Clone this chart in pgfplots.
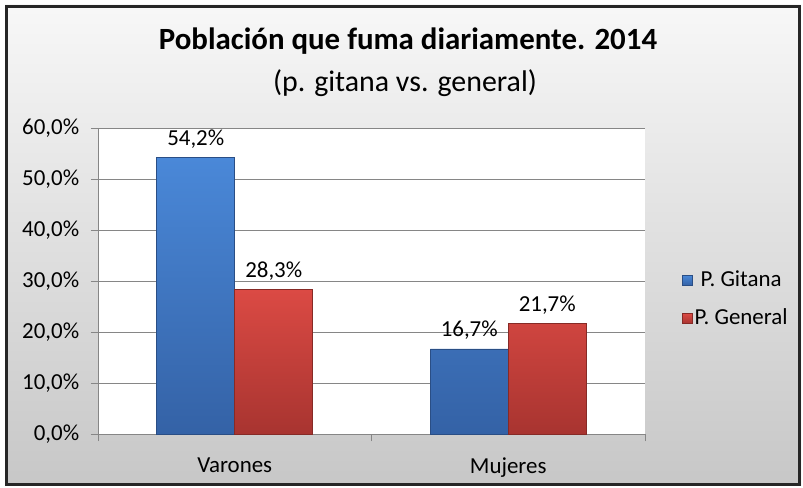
\documentclass[border=0pt]{standalone}
\usepackage{pgfplots}
\pgfplotsset{compat=1.18}
\usepackage{fontspec}
\setmainfont{Carlito}
\pgfplotsset{/pgf/number format/assume math mode=true}
\definecolor{bluetop}{HTML}{4A88D8}
\definecolor{bluebot}{HTML}{3462A6}
\definecolor{redtop}{HTML}{DB4A44}
\definecolor{redbot}{HTML}{A83430}
\definecolor{gridgray}{HTML}{868686}
\begin{document}
\fontsize{23}{27}\selectfont
\begin{tikzpicture}
\fill[white] (0bp,0bp) rectangle (803bp,488bp);
\shade[top color=black!3, bottom color=black!22] (5bp,2bp) rectangle (801bp,483bp);
\draw[black!85, line width=2.5bp] (6.5bp,3.5bp) rectangle (799.5bp,481.5bp);
\node[anchor=base, font=\fontsize{31}{35}\selectfont\bfseries] at (408bp,438bp) {Población que fuma diariamente. 2014};
\node[anchor=base, font=\fontsize{30}{34}\selectfont] at (405bp,396bp) {(p. gitana vs. general)};
\begin{axis}[
  at={(98bp,54bp)}, anchor=south west,
  width=547bp, height=306bp, scale only axis,
  ymin=0, ymax=60, xmin=-0.5, xmax=1.5,
  ytick={0,10,...,60},
  yticklabel={\pgfmathprintnumber[fixed,fixed zerofill,precision=1,use comma]{\tick}\%},
  yticklabel style={xshift=-4bp},
  xtick={-0.5,0.5,1.5},
  xticklabels={Varones,Mujeres},
  x tick label as interval=true,
  xticklabel style={yshift=-9bp},
  tick align=outside,
  major tick length=7bp,
  tick style={gridgray, line width=0.8bp},
  axis x line*=bottom, axis y line*=left,
  axis line style={gridgray, line width=0.8bp, -},
  ymajorgrids, major grid style={gridgray, line width=0.8bp},
  axis background/.style={fill=white},
  ybar=0pt, bar width=78bp,
  nodes near coords={\pgfmathprintnumber[fixed,fixed zerofill,precision=1,use comma]{\pgfplotspointmeta}\%},
  every node near coord/.append style={black, yshift=1bp},
  legend style={at={(1.062,0.44)}, anchor=west, draw=none, fill=none,
    row sep=15bp, /tikz/every even column/.style={column sep=5bp}},
  legend image code/.code={\draw[#1] (0bp,-5bp) rectangle (10bp,5bp);},
  clip=false,
]
\addplot[draw=bluebot!80!black, line width=0.6bp, top color=bluetop, bottom color=bluebot] coordinates {(0,54.2) (1,16.7)};
\addplot[draw=redbot!80!black, line width=0.6bp, top color=redtop, bottom color=redbot] coordinates {(0,28.3) (1,21.7)};
\legend{P. Gitana, P. General}
\end{axis}
\end{tikzpicture}
\end{document}
